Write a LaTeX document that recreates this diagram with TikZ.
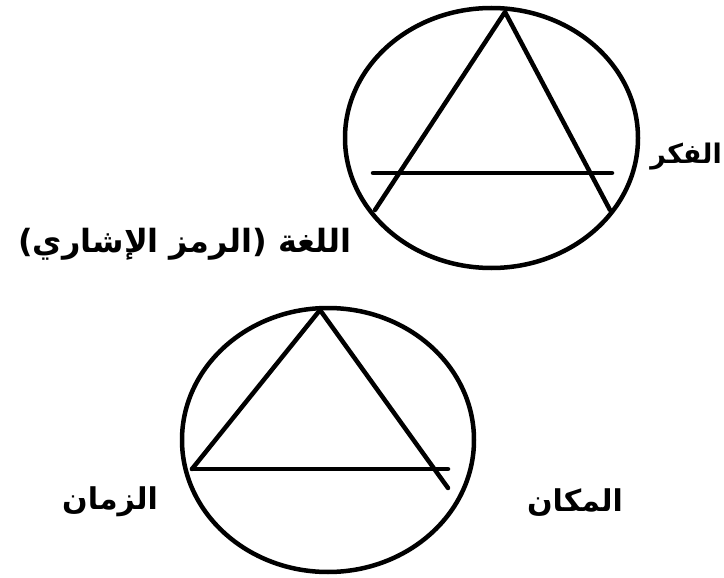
\documentclass[tikz,border=0pt]{standalone}
\usepackage{fontspec}
\newfontfamily\arabicfont[Script=Arabic]{DejaVu Sans}
\TeXXeTstate=1
\begin{document}
\begin{tikzpicture}[x=1pt,y=-1pt,
  shape line/.style={line width=4.5pt,line cap=round,line join=round},
  lbl/.style={font=\arabicfont\bfseries\fontsize{30}{34}\selectfont,inner sep=0pt}]
\useasboundingbox (0,0) rectangle (724,578);
% top figure
\coordinate (tc) at (491.5,138);
\coordinate (tA) at (505,12);
\coordinate (tL) at (375,210);
\coordinate (tR) at (610,210);
\coordinate (tH1) at (373,173);
\coordinate (tH2) at (612,173);
\draw[shape line] (tc) ellipse [x radius=146.5,y radius=130];
\draw[shape line] (tL) -- (tA) -- (tR);
\draw[shape line] (tH1) -- (tH2);
% bottom figure
\coordinate (bc) at (328,440);
\coordinate (bA) at (320,310);
\coordinate (bL) at (192,469);
\coordinate (bB) at (448,469);
\coordinate (bR) at (448,488);
\draw[shape line] (bc) ellipse [x radius=146,y radius=132];
\draw[shape line] (bL) -- (bA) -- (bR);
\draw[shape line] (bL) -- (bB);
% labels
\node[lbl,anchor=east,font=\arabicfont\bfseries\fontsize{27}{31}\selectfont] (fikr) at (722,157) {\beginR الفكر\endR};
\node[lbl,font=\arabicfont\bfseries\fontsize{32}{36}\selectfont] (lugha) at (185,244) {\beginR اللغة (الرمز الإشاري)\endR};
\node[lbl] (zaman) at (110,502) {\beginR الزمان\endR};
\node[lbl] (makan) at (575,503) {\beginR المكان\endR};
\end{tikzpicture}
\end{document}
